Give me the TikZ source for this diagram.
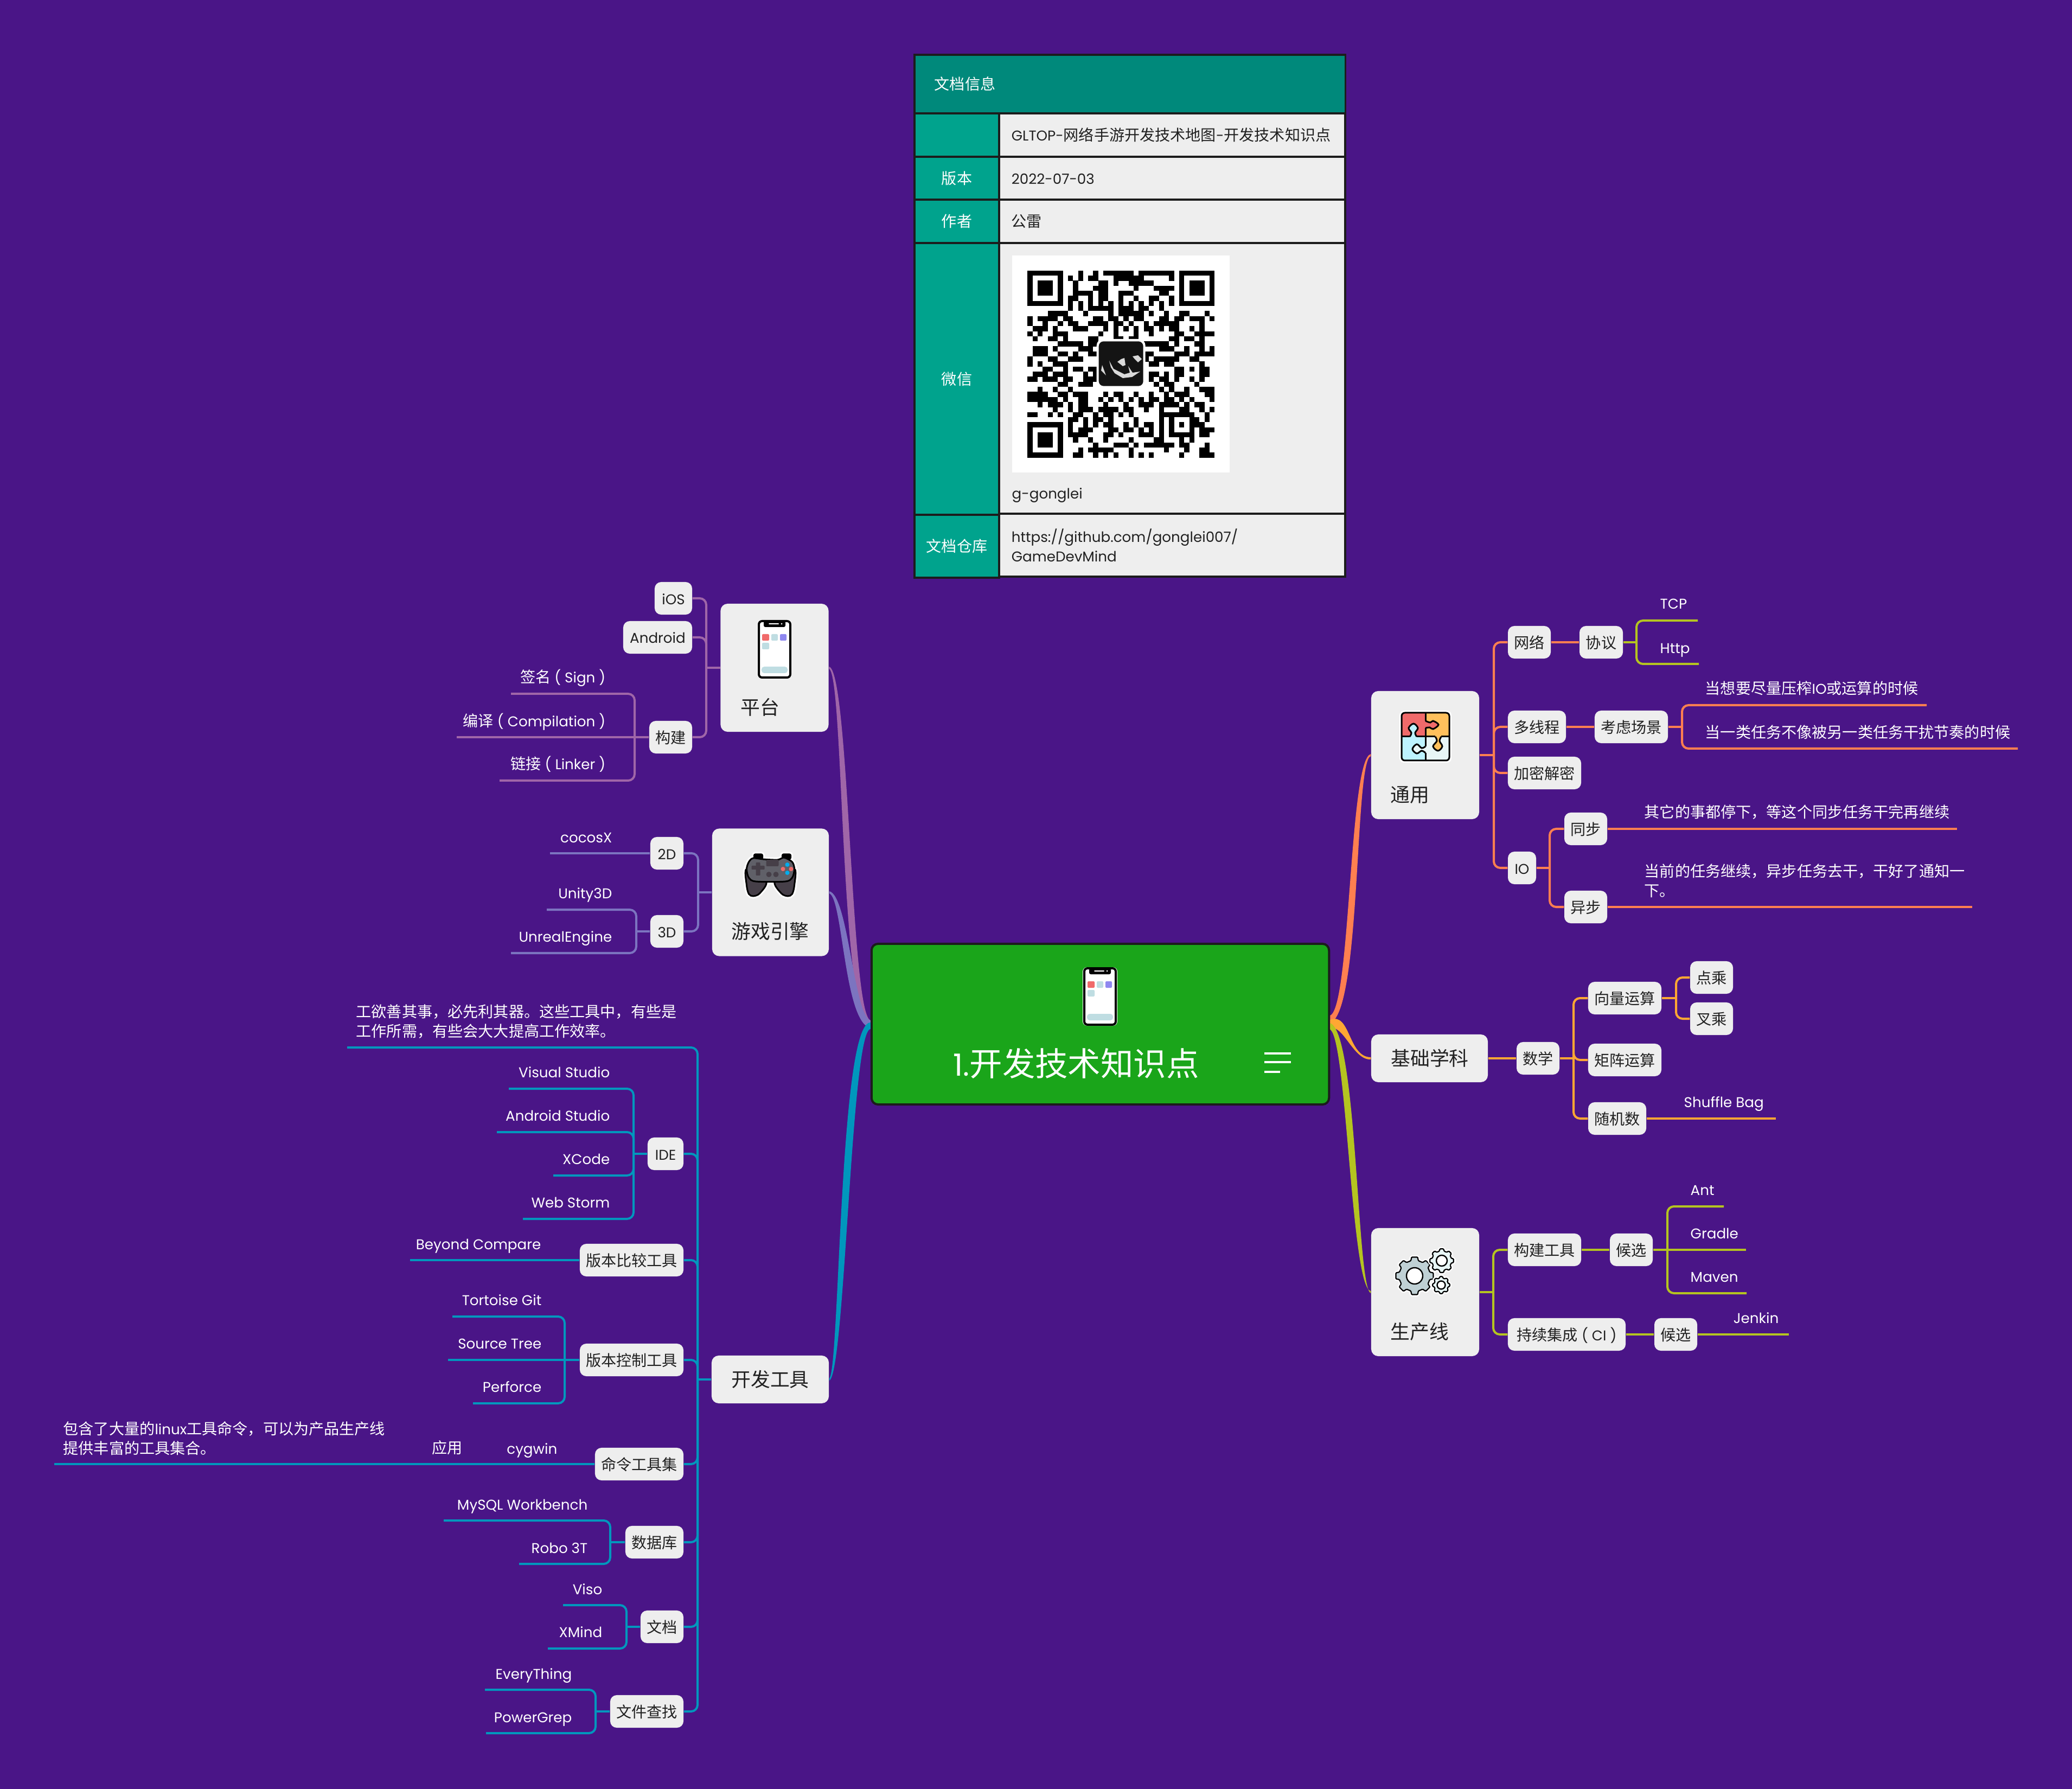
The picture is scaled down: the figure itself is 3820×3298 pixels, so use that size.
\documentclass[tikz,border=0pt]{standalone}
\usepackage{fontspec}
\setmainfont{Poppins}[Scale=0.93]
\newfontfamily\cnfont{Noto Sans CJK SC}
\newcommand{\cn}[1]{{\cnfont #1}}
\usetikzlibrary{calc}

\definecolor{cbg}{HTML}{4A1587}
\definecolor{ccell}{HTML}{EEEEEE}
\definecolor{cink}{HTML}{212121}
\definecolor{chead}{HTML}{00897B}
\definecolor{ckey}{HTML}{00A38D}
\definecolor{cedge}{HTML}{1C1C1C}
\definecolor{croot}{HTML}{1AA51A}
\definecolor{cplat}{HTML}{A066A8}
\definecolor{cengine}{HTML}{7C74C0}
\definecolor{ctool}{HTML}{0097BD}
\definecolor{ccommon}{HTML}{FF7F50}
\definecolor{cbase}{HTML}{FFA733}
\definecolor{cprod}{HTML}{B5C420}
\definecolor{ired}{HTML}{F06A6A}
\definecolor{iteal}{HTML}{BFDDE2}
\definecolor{iviolet}{HTML}{8F88F0}
\definecolor{iamber}{HTML}{FFC05C}
\definecolor{isky}{HTML}{BDF3FF}
\definecolor{ipale}{HTML}{E8F6F6}
\definecolor{isteel}{HTML}{BFD0D4}
\definecolor{ipadbody}{HTML}{606068}
\definecolor{ipaddark}{HTML}{463F48}

% one tooth wheel: x, y, outer radius, hole radius in mm, fill
\newcommand{\gearat}[5]{%
  \begin{scope}[shift={(#1,#2)}]
    \foreach \gcol/\gwid in {white/.7mm,black/.22mm}
      \draw[draw=\gcol, line width=\gwid, fill=#5, rounded corners=.12mm]
        (-22.5:{#3*.82}) \foreach \ga in {0,45,...,315}
        {-- ({\ga-14}:{#3*.82}) -- ({\ga-9}:#3) -- ({\ga+9}:#3) -- ({\ga+14}:{#3*.82})} -- cycle;
    \draw[line width=.24mm, fill=white] (0,0) circle (#4mm);
  \end{scope}}

\tikzset{
  main font/.style={font=\fontsize{8}{10.2}\selectfont},
  sub node/.style={rectangle, rounded corners=1.2mm, fill=ccell, text=cink, minimum height=6mm,
    inner sep=0pt, text height=2.8mm, text depth=.6mm, main font},
  card node/.style={rectangle, rounded corners=1.3mm, fill=ccell, inner sep=0pt},
  card title/.style={text=cink, inner sep=0pt, text height=3.3mm, text depth=.7mm,
    font=\fontsize{10.2}{12}\selectfont},
  leaf node/.style={text=white, inner sep=0pt, text height=2.8mm, text depth=.6mm, main font},
  note node/.style={text=white, inner sep=0pt, align=left, anchor=west, main font},
  key cell/.style={rectangle, fill=ckey, draw=cedge, line width=.35mm, text=white, inner sep=0pt,
    minimum width=15.6mm, text height=2.8mm, text depth=.6mm, main font},
  value cell/.style={rectangle, fill=ccell, draw=cedge, line width=.35mm, text=cink, inner ysep=0pt,
    inner xsep=2.3mm, text width=59.2mm, align=left, text height=2.8mm, text depth=.6mm, main font},
  head cell/.style={rectangle, fill=chead, draw=cedge, line width=.35mm, text=white, inner ysep=0pt,
    inner xsep=3.7mm, text width=72mm, align=left, minimum height=10.8mm, main font},
  branch/.style={line width=.4mm, rounded corners=1.2mm},
  plat line/.style={branch, draw=cplat},
  engine line/.style={branch, draw=cengine},
  tool line/.style={branch, draw=ctool},
  common line/.style={branch, draw=ccommon},
  base line/.style={branch, draw=cbase},
  prod line/.style={branch, draw=cprod},
  phone icon/.pic={
    \fill[white, rounded corners=.8mm] (-32,-54) rectangle (32,54);
    \draw[line width=.4mm, fill=white, rounded corners=.6mm] (-29,-52) rectangle (29,52);
    \fill[rounded corners=.3mm] (-20,-52) rectangle (20,-41);
    \fill[white, rounded corners=.1mm] (-11,-48) rectangle (8,-46);
    \fill[white] (13,-47) circle (.15mm);
    \fill[ired, rounded corners=.2mm] (-23,-28) rectangle (-10,-16);
    \fill[iteal, rounded corners=.2mm] (-6,-28) rectangle (6,-16);
    \fill[iviolet, rounded corners=.2mm] (10,-28) rectangle (22,-16);
    \fill[iteal, rounded corners=.2mm] (-23,-12) rectangle (-10,0);
    \fill[iteal, rounded corners=.5mm] (-24,32) rectangle (24,44);
  },
  puzzle icon/.pic={
    \fill[white, rounded corners=.8mm] (-48,-48) rectangle (48,48);
    \begin{scope}
      \clip[rounded corners=.6mm] (-44,-44) rectangle (44,44);
      \fill[ired] (-44,-44) rectangle (0,0);
      \fill[iamber] (0,-44) rectangle (44,0);
      \fill[isky] (-44,0) rectangle (0,44);
      \fill[ipale] (0,0) rectangle (44,44);
      \fill[isky] plot[smooth cycle, tension=.6] coordinates {(-29,1) (-26,-7) (-31,-16) (-22,-24) (-14,-16) (-19,-7) (-16,1)};
      \fill[ired] plot[smooth cycle, tension=.6] coordinates {(-1,-29) (9,-26) (14,-29) (24,-22) (14,-14) (8,-17) (-1,-16)};
      \fill[iamber] plot[smooth cycle, tension=.6] coordinates {(18,-1) (21,8) (14,18) (23,26) (31,18) (26,8) (29,-1)};
      \fill[ipale] plot[smooth cycle, tension=.6] coordinates {(1,18) (-7,21) (-16,14) (-24,23) (-16,31) (-7,26) (1,30)};
    \end{scope}
    \begin{scope}[line width=.3mm]
      \draw (-44,0) -- (-29,0); \draw (-16,0) -- (18,0); \draw (29,0) -- (44,0);
      \draw (0,-44) -- (0,-29); \draw (0,-16) -- (0,18); \draw (0,30) -- (0,44);
      \draw plot[smooth, tension=.6] coordinates {(-29,0) (-26,-7) (-31,-16) (-22,-24) (-14,-16) (-19,-7) (-16,0)};
      \draw plot[smooth, tension=.6] coordinates {(0,-29) (9,-26) (14,-29) (24,-22) (14,-14) (8,-17) (0,-16)};
      \draw plot[smooth, tension=.6] coordinates {(18,0) (21,8) (14,18) (23,26) (31,18) (26,8) (29,0)};
      \draw plot[smooth, tension=.6] coordinates {(0,18) (-7,21) (-16,14) (-24,23) (-16,31) (-7,26) (0,30)};
      \draw[rounded corners=.6mm] (-44,-44) rectangle (44,44);
    \end{scope}
  },
  pad icon/.pic={
    \foreach \pcol/\pwid in {white/.9mm,black/.3mm}{
      \draw[draw=\pcol, line width=\pwid, fill=black, rounded corners=.2mm] (-30,-40) rectangle (-15,-32);
      \draw[draw=\pcol, line width=\pwid, fill=black, rounded corners=.2mm] (22,-40) rectangle (37,-32);
      \draw[draw=\pcol, line width=\pwid, fill=ipaddark] plot[smooth cycle, tension=.5] coordinates {(-44,-13) (-44,17) (-40,33) (-32,37) (-20,32) (-8,10)};
      \draw[draw=\pcol, line width=\pwid, fill=ipaddark] plot[smooth cycle, tension=.5] coordinates {(44,-13) (44,17) (40,33) (32,37) (20,32) (8,10)};
      \draw[draw=\pcol, line width=\pwid, fill=ipadbody] plot[smooth cycle, tension=.5] coordinates {(-32,-33) (-13,-31) (13,-30) (25,-34) (40,-26) (44,-13) (40,3) (27,10) (-27,10) (-40,3) (-44,-13) (-40,-26)};
    }
    \fill[ipaddark, rounded corners=.2mm] (-8,-30) rectangle (15,-18);
    \fill[ipaddark, rounded corners=.1mm] (-35,-19) rectangle (-11,-12);
    \fill[ipaddark, rounded corners=.1mm] (-27,-25) rectangle (-19,-1);
    \fill[cyan] (31,-21) circle (.4mm);
    \fill[cyan] (31,-6) circle (.4mm);
    \fill[ired] (23,-13) circle (.4mm);
    \fill[ired] (38,-13) circle (.4mm);
    \fill[ipaddark] (-3,-3) circle (.5mm);
    \fill[ipaddark] (10,-3) circle (.5mm);
  },
  wheels icon/.pic={
    \gearat{-20}{7}{35}{1.5}{isteel}
    \gearat{30}{-21}{22}{1}{ipale}
    \gearat{29}{24}{16}{.75}{ipale}
  }
}

\begin{document}
\begin{tikzpicture}[x=.01cm, y=-.01cm]

  \fill[cbg] (0,0) rectangle (3820,3298);
  \useasboundingbox (0,0) rectangle (3820,3298);

  % document table
  \node[head cell] (info) at (2083,155) {\cn{文档信息}};
  \node[key cell, minimum height=8mm] (kname) at (1764,249) {};
  \node[value cell, minimum height=8mm] (vname) at (2161,249) {GLTOP-\cn{网络手游开发技术地图}-\cn{开发技术知识点}};
  \node[key cell, minimum height=8mm] (kver) at (1764,329) {\cn{版本}};
  \node[value cell, minimum height=8mm] (vver) at (2161,329) {2022-07-03};
  \node[key cell, minimum height=8mm] (kauthor) at (1764,408) {\cn{作者}};
  \node[value cell, minimum height=8mm] (vauthor) at (2161,408) {\cn{公雷}};
  \node[key cell, minimum height=50.1mm] (kwx) at (1764,698.5) {\cn{微信}};
  \node[value cell, minimum height=50.1mm] (vwx) at (2161,698.5) {};
  \node[key cell, minimum height=11.6mm] (krepo) at (1764,1007) {\cn{文档仓库}};
  \node[value cell, text height=, text depth=, minimum height=11.6mm] (vrepo) at (2161,1005) {https://github.com/gonglei007/\\GameDevMind};
  \node[main font, text=cink, inner sep=0pt, anchor=west] (wxid) at (1865,913) {g-gonglei};

  % qr code
  \fill[white] (1866,471) rectangle (2267,871);
  \begin{scope}[shift={(1894.3,498.7)}, x=.9315mm, y=-.9315mm]
    \foreach \qy/\qlist in {
      0/{0/7,10/1,13/1,15/6,22/7,30/7},
      1/{0/1,6/1,8/1,10/1,12/2,17/6,28/1,30/1,36/1},
      2/{0/1,2/3,6/1,9/1,14/2,17/1,20/5,30/1,32/3,36/1},
      3/{0/1,2/3,6/1,9/1,13/3,21/1,25/4,30/1,32/3,36/1},
      4/{0/1,2/3,6/1,9/4,14/2,18/3,26/2,30/1,32/3,36/1},
      5/{0/1,6/1,8/2,12/1,14/2,18/1,21/1,24/2,28/1,30/1,36/1},
      6/{0/7,8/1,10/1,12/1,14/1,16/1,18/1,20/1,22/1,24/1,26/1,28/1,30/7},
      7/{8/1,10/1,12/5,18/3,22/2,26/1},
      8/{4/4,11/1,16/1,18/5,24/1,27/1,30/2,35/1},
      9/{0/1,2/4,7/2,13/2,16/2,19/1,21/2,26/2,29/2,32/3,36/1},
      10/{0/1,3/1,6/1,8/2,12/4,17/2,20/1,23/1,25/5,34/1},
      11/{1/3,5/1,9/3,15/1,17/1,19/1,21/1,23/2,26/1,28/2,32/1,34/1},
      12/{0/1,2/1,5/3,14/1,17/1,21/1,24/1,29/2,33/4},
      13/{1/1,4/2,7/1,12/2,17/2,20/2,28/2,31/2,34/1},
      14/{6/5,12/2,23/5,29/1,33/2},
      15/{1/3,5/1,10/3,26/3,31/1,34/1,36/1},
      16/{1/3,6/2,9/1,12/2,23/2,29/3,33/4},
      17/{0/1,4/2,8/3,23/1,25/5,32/2},
      18/{0/1,2/1,5/3,24/2,27/2,34/1},
      19/{3/2,7/1,9/2,12/2,29/2,32/1,34/2},
      20/{1/3,5/3,11/1,13/1,24/2,27/1,29/2,34/2},
      21/{0/2,3/3,7/2,11/3,24/1,26/2,29/1,32/1,34/1},
      22/{6/2,10/3,25/1,27/2,33/1},
      23/{2/1,5/1,8/1,26/1,28/1,31/1,34/3},
      24/{0/4,6/2,9/3,15/1,17/2,21/1,24/1,27/1,29/3,35/2},
      25/{0/6,7/1,10/2,14/1,16/1,18/1,20/1,22/1,24/2,27/2,30/1,32/1,36/1},
      26/{2/1,4/3,8/1,10/2,15/1,19/1,22/3,26/4,31/1,33/2},
      27/{5/1,8/1,10/3,14/4,19/2,23/1,26/1,30/2,34/1,36/1},
      28/{0/2,4/1,6/1,9/2,13/1,15/2,18/1,20/1,26/7,35/1},
      29/{8/2,11/1,13/2,16/1,21/1,26/1,28/1,32/2,35/1},
      30/{0/7,8/1,11/1,13/1,15/2,19/1,21/1,23/2,26/1,28/1,30/1,32/3},
      31/{0/1,6/1,8/1,10/3,16/2,19/2,22/1,24/1,26/1,28/1,32/1,34/3},
      32/{0/1,2/3,6/1,8/4,15/2,18/1,22/3,26/1,28/5,34/2},
      33/{0/1,2/3,6/1,9/1,12/1,15/1,20/1,25/2,30/1,32/1},
      34/{0/1,2/3,6/1,13/1,17/3,21/1,23/6,30/2,35/1},
      35/{0/1,6/1,10/1,12/5,20/1,27/1,31/1,34/2},
      36/{0/7,9/2,13/1,15/1,17/1,20/1,22/1,24/1,30/1,34/3}}
      \foreach \qx/\qn in \qlist
        \fill (\qx,\qy) rectangle ++(\qn,1.02);
  \end{scope}
  \fill[white, rounded corners=1.2mm] (2021.7,625) rectangle (2111.7,716);
  \fill[black!92, rounded corners=.9mm] (2025.7,629.3) rectangle (2107.7,711.7);
  \fill[black!15] (2045,665) -- (2053,680) -- (2073,690) -- (2083,687) -- (2080,675) -- (2088,687)
    -- (2102,685) -- (2087,695) -- (2070,697) -- (2055,688) -- (2048,677) -- cycle;
  \fill[black!15] (2032,673) -- (2039,692) -- (2030,683) -- cycle;
  \fill[black!15] (2060,667) -- (2067,662) -- (2073,660) -- (2075,673) -- (2070,675) -- cycle;
  \fill[black!15] (2088,657) -- (2098,655) -- (2105,662) -- (2098,668) -- (2092,662) -- cycle;

  % centre
  \node[rectangle, rounded corners=1.2mm, fill=croot, draw=cedge, line width=.4mm, inner sep=0pt,
    minimum width=84.3mm, minimum height=29.6mm] (root) at (2028.5,1888) {};
  \pic at (2028,1837) {phone icon};
  \node[text=white, inner sep=0pt, anchor=west, font=\fontsize{17.2}{20}\selectfont] (roottitle) at (1757,1961) {1.\cn{开发技术知识点}};
  \draw[white, line width=.45mm] (2331,1942) -- (2380,1942);
  \draw[white, line width=.45mm] (2331,1958) -- (2380,1958);
  \draw[white, line width=.45mm] (2331,1976) -- (2360,1976);

  % platform
  \node[card node, minimum width=19.9mm, minimum height=23.6mm] (plat) at (1428,1231) {};
  \pic at (1428,1197) {phone icon};
  \node[card title, anchor=west] (plattitle) at (1365,1304) {\cn{平台}};
  \node[sub node, minimum width=6.9mm] (ios) at (1241.5,1103) {iOS};
  \node[sub node, minimum width=12.7mm] (android) at (1212.5,1175) {Android};
  \node[sub node, minimum width=7.9mm] (build) at (1236.5,1359) {\cn{构建}};
  \node[leaf node, anchor=east] (sign) at (1117,1247) {\cn{签名} ( Sign )};
  \node[leaf node, anchor=east] (compile) at (1117,1328) {\cn{编译} ( Compilation )};
  \node[leaf node, anchor=east] (linker) at (1117,1407) {\cn{链接} ( Linker )};
  \coordinate (signend) at (942,1279);
  \coordinate (compileend) at (842,1359);
  \coordinate (linkerend) at (921,1439);
  \coordinate (platfork) at (1302,1231);
  \coordinate (buildfork) at (1170,1359);
  \draw[plat line] (plat.west) -- (platfork);
  \draw[plat line] (ios.east) -| (platfork);
  \draw[plat line] (android.east) -| (platfork);
  \draw[plat line] (build.east) -| (platfork);
  \draw[plat line] (signend) -| (buildfork);
  \draw[plat line] (linkerend) -| (buildfork);
  \draw[plat line] (compileend) -- (build.west);

  % engine
  \node[card node, minimum width=21.5mm, minimum height=23.5mm] (engine) at (1420.5,1645) {};
  \pic at (1420.5,1615) {pad icon};
  \node[card title] (enginetitle) at (1420,1717) {\cn{游戏引擎}};
  \node[sub node, minimum width=6.1mm] (twod) at (1229.5,1573) {2D};
  \node[sub node, minimum width=6.1mm] (threed) at (1229.5,1717) {3D};
  \node[leaf node, anchor=east] (cocos) at (1129,1542) {cocosX};
  \node[leaf node, anchor=east] (unity) at (1129,1645) {Unity3D};
  \node[leaf node, anchor=east] (unreal) at (1129,1725) {UnrealEngine};
  \coordinate (cocosend) at (1014,1573);
  \coordinate (unityend) at (1008,1677);
  \coordinate (unrealend) at (942,1757);
  \coordinate (enginefork) at (1287,1645);
  \coordinate (threedfork) at (1173,1717);
  \draw[engine line] (engine.west) -- (enginefork);
  \draw[engine line] (twod.east) -| (enginefork);
  \draw[engine line] (threed.east) -| (enginefork);
  \draw[engine line] (cocosend) -- (twod.west);
  \draw[engine line] (unityend) -| (threedfork);
  \draw[engine line] (unrealend) -| (threedfork);
  \draw[engine line] (threedfork) -- (threed.west);

  % tools
  \node[card node, minimum width=21.6mm, minimum height=8.8mm] (tools) at (1420,2543) {};
  \node[card title] (toolstitle) at (1420,2543) {\cn{开发工具}};
  \node[note node] (toolsnote) at (656,1883) {\cn{工欲善其事，必先利其器。这些工具中，有些是}\\\cn{工作所需，有些会大大提高工作效率。}};
  \node[sub node, minimum width=6.6mm] (ide) at (1227,2127) {IDE};
  \node[sub node, minimum width=19.1mm] (diff) at (1164.5,2323) {\cn{版本比较工具}};
  \node[sub node, minimum width=19.1mm] (vcs) at (1164.5,2507) {\cn{版本控制工具}};
  \node[sub node, minimum width=16.3mm] (cmd) at (1178.5,2699) {\cn{命令工具集}};
  \node[sub node, minimum width=10.7mm] (db) at (1206.5,2843) {\cn{数据库}};
  \node[sub node, minimum width=7.9mm] (doc) at (1220.5,2999) {\cn{文档}};
  \node[sub node, minimum width=13.5mm] (find) at (1192.5,3155) {\cn{文件查找}};
  \coordinate (toolsnoteend) at (640,1931);
  \coordinate (toolsfork) at (1286,2543);
  \draw[tool line] (tools.west) -- (toolsfork);
  \draw[tool line] (toolsnoteend) -| (toolsfork);
  \draw[tool line] (ide.east) -| (toolsfork);
  \draw[tool line] (diff.east) -| (toolsfork);
  \draw[tool line] (vcs.east) -| (toolsfork);
  \draw[tool line] (cmd.east) -| (toolsfork);
  \draw[tool line] (db.east) -| (toolsfork);
  \draw[tool line] (doc.east) -| (toolsfork);
  \draw[tool line] (find.east) -| (toolsfork);

  \node[leaf node, anchor=east] (vstudio) at (1125,1975) {Visual Studio};
  \node[leaf node, anchor=east] (astudio) at (1125,2055) {Android Studio};
  \node[leaf node, anchor=east] (xcode) at (1125,2135) {XCode};
  \node[leaf node, anchor=east] (webstorm) at (1125,2215) {Web Storm};
  \coordinate (vstudioend) at (938,2007);
  \coordinate (astudioend) at (916,2087);
  \coordinate (xcodeend) at (1020,2167);
  \coordinate (webstormend) at (964,2247);
  \coordinate (idefork) at (1168,2127);
  \draw[tool line] (ide.west) -- (idefork);
  \draw[tool line] (vstudioend) -| (idefork);
  \draw[tool line] (astudioend) -| (idefork);
  \draw[tool line] (xcodeend) -| (idefork);
  \draw[tool line] (webstormend) -| (idefork);

  \node[leaf node, anchor=east] (beyond) at (998,2292) {Beyond Compare};
  \coordinate (beyondend) at (756,2323);
  \draw[tool line] (beyondend) -- (diff.west);

  \node[leaf node, anchor=east] (tortoise) at (999,2395) {Tortoise Git};
  \node[leaf node, anchor=east] (sourcetree) at (999,2475) {Source Tree};
  \node[leaf node, anchor=east] (perforce) at (999,2555) {Perforce};
  \coordinate (tortoiseend) at (834,2427);
  \coordinate (sourcetreeend) at (826,2507);
  \coordinate (perforceend) at (872,2587);
  \coordinate (vcsfork) at (1041,2507);
  \draw[tool line] (tortoiseend) -| (vcsfork);
  \draw[tool line] (perforceend) -| (vcsfork);
  \draw[tool line] (sourcetreeend) -- (vcs.west);

  \node[note node] (cmdnote) at (116,2652) {\cn{包含了大量的}linux\cn{工具命令，可以为产品生产线}\\\cn{提供丰富的工具集合。}};
  \node[leaf node, anchor=west] (app) at (796,2668) {\cn{应用}};
  \node[leaf node, anchor=east] (cygwin) at (1028,2669) {cygwin};
  \coordinate (cmdend) at (100,2699);
  \draw[tool line] (cmdend) -- (cmd.west);

  \node[leaf node, anchor=east] (mysql) at (1084,2772) {MySQL Workbench};
  \node[leaf node, anchor=east] (robo) at (1084,2852) {Robo 3T};
  \coordinate (mysqlend) at (818,2803);
  \coordinate (roboend) at (957,2883);
  \coordinate (dbfork) at (1125,2843);
  \draw[tool line] (db.west) -- (dbfork);
  \draw[tool line] (mysqlend) -| (dbfork);
  \draw[tool line] (roboend) -| (dbfork);

  \node[leaf node, anchor=east] (viso) at (1111,2928) {Viso};
  \node[leaf node, anchor=east] (xmind) at (1111,3007) {XMind};
  \coordinate (visoend) at (1038,2959);
  \coordinate (xmindend) at (1010,3039);
  \coordinate (docfork) at (1155,2999);
  \draw[tool line] (doc.west) -- (docfork);
  \draw[tool line] (visoend) -| (docfork);
  \draw[tool line] (xmindend) -| (docfork);

  \node[leaf node, anchor=east] (everything) at (1055,3084) {EveryThing};
  \node[leaf node, anchor=east] (powergrep) at (1055,3164) {PowerGrep};
  \coordinate (everythingend) at (894,3115);
  \coordinate (powergrepend) at (896,3195);
  \coordinate (findfork) at (1098,3155);
  \draw[tool line] (find.west) -- (findfork);
  \draw[tool line] (everythingend) -| (findfork);
  \draw[tool line] (powergrepend) -| (findfork);

  % common
  \node[card node, minimum width=19.9mm, minimum height=23.6mm] (common) at (2627.5,1392) {};
  \pic at (2628,1358) {puzzle icon};
  \node[card title, anchor=west] (commontitle) at (2563,1465) {\cn{通用}};
  \node[sub node, minimum width=7.9mm] (net) at (2819.5,1184) {\cn{网络}};
  \node[sub node, minimum width=8mm] (proto) at (2952,1184) {\cn{协议}};
  \node[sub node, minimum width=10.7mm] (thread) at (2833.5,1340) {\cn{多线程}};
  \node[sub node, minimum width=13.5mm] (scene) at (3007.5,1340) {\cn{考虑场景}};
  \node[sub node, minimum width=13.5mm] (crypt) at (2847.5,1425) {\cn{加密解密}};
  \node[sub node, minimum width=5.2mm] (io) at (2806,1600) {IO};
  \node[sub node, minimum width=7.9mm] (syncio) at (2923.5,1528) {\cn{同步}};
  \node[sub node, minimum width=7.9mm] (asyncio) at (2923.5,1672) {\cn{异步}};
  \node[leaf node, anchor=west] (tcp) at (3060,1111) {TCP};
  \node[leaf node, anchor=west] (http) at (3060,1193) {Http};
  \node[leaf node, anchor=west] (squeeze) at (3143,1268) {\cn{当想要尽量压榨}IO\cn{或运算的时候}};
  \node[leaf node, anchor=west] (rhythm) at (3143,1349) {\cn{当一类任务不像被另一类任务干扰节奏的时候}};
  \node[leaf node, anchor=west] (synctext) at (3031,1496) {\cn{其它的事都停下，等这个同步任务干完再继续}};
  \node[note node] (asynctext) at (3031,1624) {\cn{当前的任务继续，异步任务去干，干好了通知一}\\\cn{下。}};
  \coordinate (commonfork) at (2754,1392);
  \coordinate (protofork) at (3017,1184);
  \coordinate (scenefork) at (3101,1340);
  \coordinate (iofork) at (2857,1600);
  \coordinate (tcpend) at (3130,1144);
  \coordinate (httpend) at (3132,1224);
  \coordinate (squeezeend) at (3552,1300);
  \coordinate (rhythmend) at (3720,1380);
  \coordinate (syncend) at (3608,1528);
  \coordinate (asyncend) at (3636,1672);
  \draw[common line] (common.east) -- (commonfork);
  \draw[common line] (net.west) -| (commonfork);
  \draw[common line] (thread.west) -| (commonfork);
  \draw[common line] (crypt.west) -| (commonfork);
  \draw[common line] (io.west) -| (commonfork);
  \draw[common line] (net.east) -- (proto.west);
  \draw[prod line] (proto.east) -- (protofork);
  \draw[prod line] (tcpend) -| (protofork);
  \draw[prod line] (httpend) -| (protofork);
  \draw[common line] (thread.east) -- (scene.west);
  \draw[common line] (scene.east) -- (scenefork);
  \draw[common line] (squeezeend) -| (scenefork);
  \draw[common line] (rhythmend) -| (scenefork);
  \draw[common line] (io.east) -- (iofork);
  \draw[common line] (syncio.west) -| (iofork);
  \draw[common line] (asyncio.west) -| (iofork);
  \draw[common line] (syncio.east) -- (syncend);
  \draw[common line] (asyncio.east) -- (asyncend);

  % base
  \node[card node, minimum width=21.5mm, minimum height=8.8mm] (base) at (2635.5,1951) {};
  \node[card title] (basetitle) at (2636,1951) {\cn{基础学科}};
  \node[sub node, minimum width=7.9mm] (math) at (2835.5,1951) {\cn{数学}};
  \node[sub node, minimum width=13.5mm] (vector) at (2995.5,1840) {\cn{向量运算}};
  \node[sub node, minimum width=13.5mm] (matrix) at (2995.5,1954) {\cn{矩阵运算}};
  \node[sub node, minimum width=10.7mm] (random) at (2981.5,2062) {\cn{随机数}};
  \node[sub node, minimum width=7.9mm] (dot) at (3155.5,1802) {\cn{点乘}};
  \node[sub node, minimum width=7.9mm] (cross) at (3155.5,1878) {\cn{叉乘}};
  \node[leaf node, anchor=west] (shuffle) at (3104,2030) {Shuffle Bag};
  \coordinate (shuffleend) at (3274,2062);
  \coordinate (mathfork) at (2901,1951);
  \coordinate (vectorfork) at (3090,1840);
  \draw[base line] (base.east) -- (math.west);
  \draw[base line] (math.east) -- (mathfork);
  \draw[base line] (vector.west) -| (mathfork);
  \draw[base line] (matrix.west) -| (mathfork);
  \draw[base line] (random.west) -| (mathfork);
  \draw[base line] (vector.east) -- (vectorfork);
  \draw[base line] (dot.west) -| (vectorfork);
  \draw[base line] (cross.west) -| (vectorfork);
  \draw[base line] (random.east) -- (shuffleend);

  % production
  \node[card node, minimum width=19.9mm, minimum height=23.6mm] (prod) at (2627.5,2382) {};
  \pic at (2628,2345) {wheels icon};
  \node[card title, anchor=west] (prodtitle) at (2563,2455) {\cn{生产线}};
  \node[sub node, minimum width=13.5mm] (buildtool) at (2847.5,2304) {\cn{构建工具}};
  \node[sub node, minimum width=7.9mm] (pickone) at (3007.5,2304) {\cn{候选}};
  \node[sub node, minimum width=21.7mm] (ci) at (2888.5,2460) {\cn{持续集成} ( CI )};
  \node[sub node, minimum width=7.9mm] (picktwo) at (3089.5,2460) {\cn{候选}};
  \node[leaf node, anchor=west] (ant) at (3116,2192) {Ant};
  \node[leaf node, anchor=west] (gradle) at (3116,2272) {Gradle};
  \node[leaf node, anchor=west] (maven) at (3116,2352) {Maven};
  \node[leaf node, anchor=east] (jenkin) at (3280,2428) {Jenkin};
  \coordinate (prodfork) at (2753,2382);
  \coordinate (pickfork) at (3074,2304);
  \coordinate (antend) at (3178,2224);
  \coordinate (gradleend) at (3219,2304);
  \coordinate (mavenend) at (3220,2384);
  \coordinate (jenkinend) at (3298,2460);
  \draw[prod line] (prod.east) -- (prodfork);
  \draw[prod line] (buildtool.west) -| (prodfork);
  \draw[prod line] (ci.west) -| (prodfork);
  \draw[prod line] (buildtool.east) -- (pickone.west);
  \draw[prod line] (pickone.east) -- (gradleend);
  \draw[prod line] (antend) -| (pickfork);
  \draw[prod line] (mavenend) -| (pickfork);
  \draw[prod line] (ci.east) -- (picktwo.west);
  \draw[prod line] (picktwo.east) -- (jenkinend);

  % main branches
  \fill[cplat] ($(plat.east)+(0,-2)$) .. controls (1566,1235) and (1568,1868) .. ($(root.west)+(0,-7)$)
    -- ($(root.west)+(0,7)$) .. controls (1548,1880) and (1556,1240) .. ($(plat.east)+(0,2)$) -- cycle;
  \fill[cengine] ($(engine.east)+(0,-2)$) .. controls (1564,1650) and (1574,1872) .. ($(root.west)+(0,-7)$)
    -- ($(root.west)+(0,7)$) .. controls (1556,1885) and (1554,1655) .. ($(engine.east)+(0,2)$) -- cycle;
  \fill[ctool] ($(tools.east)+(0,-2)$) .. controls (1548,2530) and (1547,1885) .. ($(root.west)+(0,-3)$)
    -- ($(root.west)+(0,9)$) .. controls (1569,1900) and (1558,2535) .. ($(tools.east)+(0,2)$) -- cycle;
  \fill[ccommon] ($(common.west)+(0,-2)$) .. controls (2487,1400) and (2490,1858) .. ($(root.east)+(0,-16)$)
    -- ($(root.east)+(0,-2)$) .. controls (2510,1865) and (2497,1400) .. ($(common.west)+(0,2)$) -- cycle;
  \fill[cbase] ($(base.west)+(0,-2)$) .. controls (2485,1949) and (2490,1865) .. ($(root.east)+(0,-8)$)
    -- ($(root.east)+(0,9)$) .. controls (2475,1885) and (2495,1955) .. ($(base.west)+(0,2)$) -- cycle;
  \fill[cprod] ($(prod.west)+(0,-2)$) .. controls (2491,2375) and (2483,1915) .. ($(root.east)+(0,10)$)
    -- ($(root.east)+(0,-2)$) .. controls (2503,1905) and (2501,2375) .. ($(prod.west)+(0,2)$) -- cycle;

\end{tikzpicture}
\end{document}
